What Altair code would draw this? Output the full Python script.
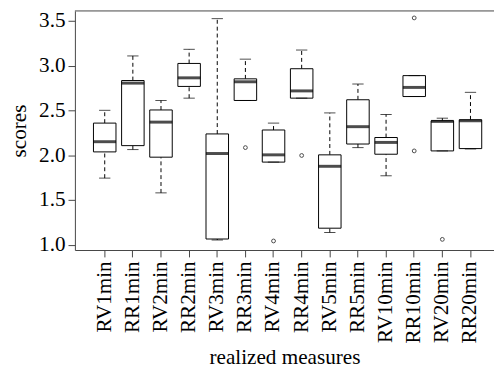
import altair as alt
import pandas as pd

names = ["RV1min", "RR1min", "RV2min", "RR2min", "RV3min", "RR3min", "RV4min",
         "RR4min", "RV5min", "RR5min", "RV10min", "RR10min", "RV20min", "RR20min"]
whisk_lo = [1.744, 2.063, 1.579, 2.638, 1.052, 2.612, 1.923, 2.638, 1.136, 2.085, 1.770, 2.656, 2.048, 2.070]
q1 = [2.037, 2.107, 1.978, 2.769, 1.063, 2.612, 1.923, 2.638, 1.184, 2.125, 2.011, 2.656, 2.048, 2.074]
med = [2.151, 2.806, 2.370, 2.865, 2.019, 2.821, 2.004, 2.719, 1.876, 2.319, 2.143, 2.758, 2.378, 2.385]
q3 = [2.359, 2.835, 2.506, 3.026, 2.238, 2.854, 2.282, 2.967, 2.004, 2.620, 2.198, 2.890, 2.385, 2.396]
whisk_hi = [2.502, 3.110, 2.612, 3.184, 3.527, 3.074, 2.359, 3.176, 2.473, 2.796, 2.455, 2.890, 2.414, 2.703]
out_name = ["RR3min", "RV4min", "RR4min", "RR10min", "RR10min", "RV20min"]
out_val = [2.085, 1.041, 1.997, 3.535, 2.048, 1.059]
y_ticks = [1.0, 1.5, 2.0, 2.5, 3.0, 3.5]

W, H = 426, 243
FONT = "Liberation Serif, Times New Roman, DejaVu Serif, serif"
FS = 21.5
FRAME = "#444444"

stats = pd.DataFrame({"name": names, "lo": whisk_lo, "q1": q1, "med": med,
                      "q3": q3, "hi": whisk_hi})
outs = pd.DataFrame({"name": out_name, "v": out_val})

xscale = alt.Scale(domain=names, paddingInner=0, paddingOuter=0.448, align=0.625)
yscale = alt.Scale(domain=[0.94, 3.613], nice=False, zero=False)

x = alt.X("name:N", scale=xscale, sort=names,
          axis=alt.Axis(title="realized measures", labelAngle=270, labelPadding=4,
                        tickSize=7, titleY=115, titleBaseline="alphabetic",
                        titleFont=FONT, titleFontSize=FS, labelFont=FONT, labelFontSize=FS,
                        domainColor=FRAME, tickColor=FRAME))
y_axis = alt.Axis(title="scores", values=y_ticks, format=".1f", tickSize=7,
                  labelPadding=3, grid=False, titleX=-56, titleY=H / 2,
                  titleAngle=270, titleAlign="center", titleBaseline="middle",
                  titleFont=FONT, titleFontSize=FS, labelFont=FONT, labelFontSize=FS,
                  domainColor=FRAME, tickColor=FRAME)

base = alt.Chart(stats)

whisk_up = base.mark_rule(color="black", strokeWidth=1, strokeDash=[4, 3]).encode(
    x=x, y=alt.Y("q3:Q", scale=yscale, axis=y_axis), y2="hi:Q")
whisk_dn = base.mark_rule(color="black", strokeWidth=1, strokeDash=[4, 3]).encode(
    x=x, y=alt.Y("lo:Q", scale=yscale), y2="q1:Q")
box = base.mark_bar(fill="white", stroke="black", strokeWidth=1,
                    width=alt.RelativeBandSize(0.8)).encode(
    x=x, y=alt.Y("q1:Q", scale=yscale), y2="q3:Q")
median = base.mark_tick(color="black", thickness=3, size=23, orient="horizontal").encode(
    x=x, y=alt.Y("med:Q", scale=yscale))
staple_hi = base.mark_tick(color="black", thickness=1, size=11.5, orient="horizontal").encode(
    x=x, y=alt.Y("hi:Q", scale=yscale))
staple_lo = base.mark_tick(color="black", thickness=1, size=11.5, orient="horizontal").encode(
    x=x, y=alt.Y("lo:Q", scale=yscale))
points = alt.Chart(outs).mark_point(shape="circle", size=15, color="black",
                                    strokeWidth=1, filled=False).encode(
    x=x, y=alt.Y("v:Q", scale=yscale))
topline = alt.Chart(pd.DataFrame({"a": [0]})).mark_rule(color=FRAME, strokeWidth=1).encode(
    x=alt.value(0), x2=alt.value(W), y=alt.value(0))

chart = alt.layer(whisk_up, whisk_dn, box, median, staple_hi, staple_lo, points, topline).properties(
    width=W, height=H,
    padding={"left": 68, "top": 0, "right": 0, "bottom": 121},
    autosize=alt.AutoSizeParams(type="none"),
).configure_view(stroke=None).configure_axis(
    labelFont=FONT, titleFont=FONT, labelFontSize=FS, titleFontSize=FS,
    labelColor="black", titleColor="black", titleFontWeight="normal",
)

chart.save("out.html", embed_options={"renderer": "svg", "actions": False})
